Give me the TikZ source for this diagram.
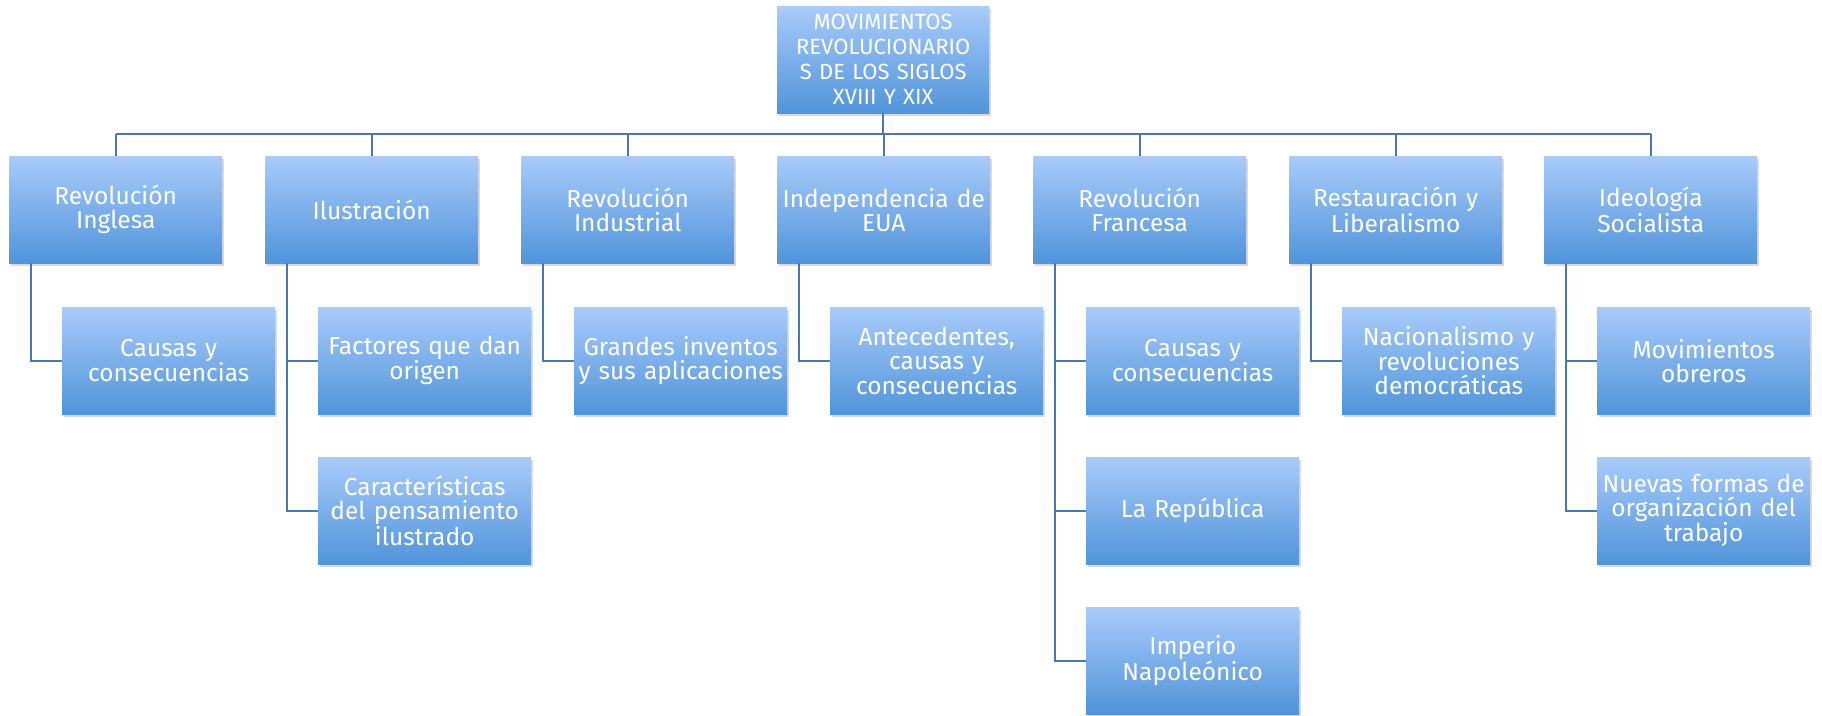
\documentclass[tikz,border=0pt]{standalone}
\usepackage{fontspec}
\setmainfont{Fira Sans}
\usetikzlibrary{shadows}
\definecolor{topc}{RGB}{168,203,250}
\definecolor{botc}{RGB}{80,148,218}
\definecolor{linec}{RGB}{74,120,170}
\begin{document}
\begin{tikzpicture}[x=1pt,y=-1pt,
  box/.style={rectangle, anchor=north west, minimum width=213pt, minimum height=107pt,
    text width=211pt, align=center, inner sep=0pt, top color=topc, bottom color=botc,
    text=white, font=\fontsize{24.5}{24}\selectfont,
    drop shadow={opacity=0.3, shadow xshift=2pt, shadow yshift=-3pt}},
  rootbox/.style={box, minimum width=212pt, font=\fontsize{22}{25}\selectfont},
  conn/.style={draw=linec, line width=1.8pt}]
\useasboundingbox (0,0) rectangle (1822,715);
\coordinate (bar) at (0,134);
% nodes
\node[rootbox] (root) at (777,6) {MOVIMIENTOS\\REVOLUCIONARIO\\S DE LOS SIGLOS\\XVIII Y XIX};
\node[box] (a1) at (9,156) {Revolución\\Inglesa};
\node[box] (a2) at (265,156) {Ilustración};
\node[box] (a3) at (521,156) {Revolución\\Industrial};
\node[box] (a4) at (777,156) {Independencia de\\EUA};
\node[box] (a5) at (1033,156) {Revolución\\Francesa};
\node[box] (a6) at (1289,156) {Restauración y\\Liberalismo};
\node[box] (a7) at (1544,156) {Ideología\\Socialista};
\node[box] (c11) at (62,307) {Causas y\\consecuencias};
\node[box] (c21) at (318,307) {Factores que dan\\origen};
\node[box] (c22) at (318,457) {Características\\del pensamiento\\ilustrado};
\node[box] (c31) at (574,307) {Grandes inventos\\y sus aplicaciones};
\node[box] (c41) at (830,307) {Antecedentes,\\causas y\\consecuencias};
\node[box] (c51) at (1086,307) {Causas y\\consecuencias};
\node[box] (c52) at (1086,457) {La República};
\node[box] (c53) at (1086,607) {Imperio\\Napoleónico};
\node[box] (c61) at (1342,307) {Nacionalismo y\\revoluciones\\democráticas};
\node[box] (c71) at (1597,307) {Movimientos\\obreros};
\node[box] (c72) at (1597,457) {Nuevas formas de\\organización del\\trabajo};
% connectors
\draw[conn] (root.south) -- (root.south |- bar);
\draw[conn] (a1.north |- bar) -- (a7.north |- bar);
\foreach \n in {a1,a2,a3,a4,a5,a6,a7}
  \draw[conn] (\n.north |- bar) -- (\n.north);
\draw[conn] ([xshift=22pt]a1.south west) |- (c11.west);
\draw[conn] ([xshift=22pt]a2.south west) |- (c21.west);
\draw[conn] ([xshift=22pt]a2.south west) |- (c22.west);
\draw[conn] ([xshift=22pt]a3.south west) |- (c31.west);
\draw[conn] ([xshift=22pt]a4.south west) |- (c41.west);
\draw[conn] ([xshift=22pt]a5.south west) |- (c51.west);
\draw[conn] ([xshift=22pt]a5.south west) |- (c52.west);
\draw[conn] ([xshift=22pt]a5.south west) |- (c53.west);
\draw[conn] ([xshift=22pt]a6.south west) |- (c61.west);
\draw[conn] ([xshift=22pt]a7.south west) |- (c71.west);
\draw[conn] ([xshift=22pt]a7.south west) |- (c72.west);
\end{tikzpicture}
\end{document}
